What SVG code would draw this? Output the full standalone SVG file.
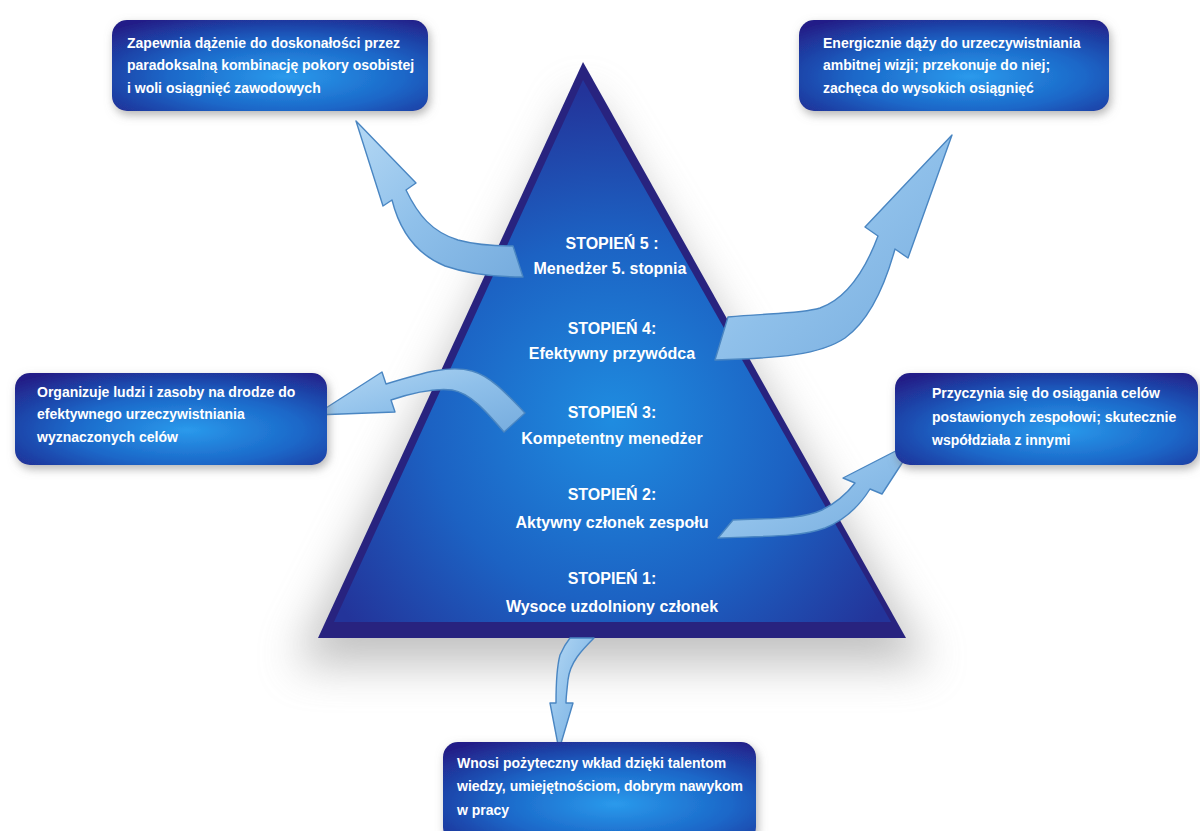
<svg xmlns="http://www.w3.org/2000/svg" width="1200" height="831" viewBox="0 0 1200 831">
<defs>
<radialGradient id="boxG" cx="55%" cy="62%" r="75%">
<stop offset="0" stop-color="#2a9aec"/>
<stop offset="0.5" stop-color="#1b67c8"/>
<stop offset="1" stop-color="#221f88"/>
</radialGradient>
<radialGradient id="triG" gradientUnits="userSpaceOnUse" cx="612" cy="420" r="330">
<stop offset="0" stop-color="#1f8ce0"/>
<stop offset="0.55" stop-color="#1c62c3"/>
<stop offset="1" stop-color="#23349a"/>
</radialGradient>
<linearGradient id="arrG" x1="0" y1="0" x2="1" y2="1">
<stop offset="0" stop-color="#b4d8f4"/>
<stop offset="0.5" stop-color="#8fc0ea"/>
<stop offset="1" stop-color="#76acde"/>
</linearGradient>
<filter id="blur" x="-30%" y="-30%" width="160%" height="160%">
<feGaussianBlur stdDeviation="22"/>
</filter>
<filter id="shadow" x="-10%" y="-20%" width="120%" height="150%">
<feDropShadow dx="2" dy="4" stdDeviation="5" flood-color="#777" flood-opacity="0.55"/>
</filter>
<style>
.box{fill:url(#boxG);filter:url(#shadow);}
.bt{font-family:"Liberation Sans",Arial,sans-serif;font-size:14px;font-weight:bold;fill:#ffffff;}
.pt{font-family:"Liberation Sans",Arial,sans-serif;font-size:16px;font-weight:bold;fill:#ffffff;text-anchor:middle;}
.arr{fill:url(#arrG);stroke:#4a86c2;stroke-width:1.4;stroke-linejoin:round;}
</style>
</defs>
<rect width="1200" height="831" fill="#ffffff"/>
<polygon points="583,90 295,665 930,665" fill="#9a9a9a" opacity="0.6" filter="url(#blur)"/>

<g id="pyramid">
<polygon points="583,62 318,638 906,638" fill="#28237f"/>
<polygon points="583,80 334,622 891,622" fill="url(#triG)"/>
<text class="pt" x="612" y="249">STOPIEŃ 5 :</text>
<text class="pt" x="610" y="274">Menedżer 5. stopnia</text>
<text class="pt" x="612" y="334">STOPIEŃ 4:</text>
<text class="pt" x="612" y="359">Efektywny przywódca</text>
<text class="pt" x="612" y="418">STOPIEŃ 3:</text>
<text class="pt" x="612" y="444">Kompetentny menedżer</text>
<text class="pt" x="612" y="500">STOPIEŃ 2:</text>
<text class="pt" x="612" y="528">Aktywny członek zespołu</text>
<text class="pt" x="612" y="584">STOPIEŃ 1:</text>
<text class="pt" x="612" y="612">Wysoce uzdolniony członek</text>
</g>

<g id="connectors">
<path class="arr" d="M356,121 L416,183 L406,190 C418,215 432,232 458,240 C480,246 500,246 513,246 L523,277 C495,277 468,274 445,266 C418,255 400,232 392,200 L383,206 Z"/>
<path class="arr" d="M728,317 C770,313 800,314 820,308 C848,298 866,268 878,236 L865,227 L952,135 L908,258 L895,249 C885,285 870,320 845,338 C820,355 780,358 715,360 Z"/>
<path class="arr" d="M525,413 C505,392 490,376 472,371 C450,365 425,372 386,384 L382,372 L315,415 L395,412 L391,400 C415,392 435,388 452,390 C470,393 485,410 504,432 Z"/>
<path class="arr" d="M733,520 C770,518 800,520 822,510 C838,502 848,492 855,483 L843,478 L917,440 L882,494 L870,489 C860,505 845,520 825,528 C800,537 770,536 718,538 Z"/>
<path class="arr" d="M570,638 L594,638 C582,650 570,662 568,680 C567,690 566,697 566,703 L573,703 L559,750 L550,703 L556,703 C556,690 556,670 560,655 C563,648 566,643 570,638 Z"/>
</g>

<g id="box-top-left">
<rect class="box" x="112" y="20" width="316" height="91" rx="15"/>
<text class="bt" x="127" y="48">Zapewnia dążenie do doskonałości przez</text>
<text class="bt" x="127" y="70">paradoksalną kombinację pokory osobistej</text>
<text class="bt" x="127" y="93">i woli osiągnięć zawodowych</text>
</g>

<g id="box-top-right">
<rect class="box" x="799" y="20" width="310" height="91" rx="15"/>
<text class="bt" x="823" y="48">Energicznie dąży do urzeczywistniania</text>
<text class="bt" x="823" y="70">ambitnej wizji; przekonuje do niej;</text>
<text class="bt" x="823" y="93">zachęca do wysokich osiągnięć</text>
</g>

<g id="box-left">
<rect class="box" x="15" y="373" width="312" height="92" rx="15"/>
<text class="bt" x="37" y="397">Organizuje ludzi i zasoby na drodze do</text>
<text class="bt" x="37" y="419">efektywnego urzeczywistniania</text>
<text class="bt" x="37" y="442">wyznaczonych celów</text>
</g>

<g id="box-right">
<rect class="box" x="895" y="373" width="303" height="92" rx="15"/>
<text class="bt" x="932" y="398">Przyczynia się do osiągania celów</text>
<text class="bt" x="932" y="422">postawionych zespołowi; skutecznie</text>
<text class="bt" x="932" y="445">współdziała z innymi</text>
</g>

<g id="box-bottom">
<rect class="box" x="443" y="742" width="313" height="100" rx="15"/>
<text class="bt" x="457" y="768">Wnosi pożyteczny wkład dzięki talentom</text>
<text class="bt" x="457" y="791">wiedzy, umiejętnościom, dobrym nawykom</text>
<text class="bt" x="457" y="815">w pracy</text>
</g>
</svg>
